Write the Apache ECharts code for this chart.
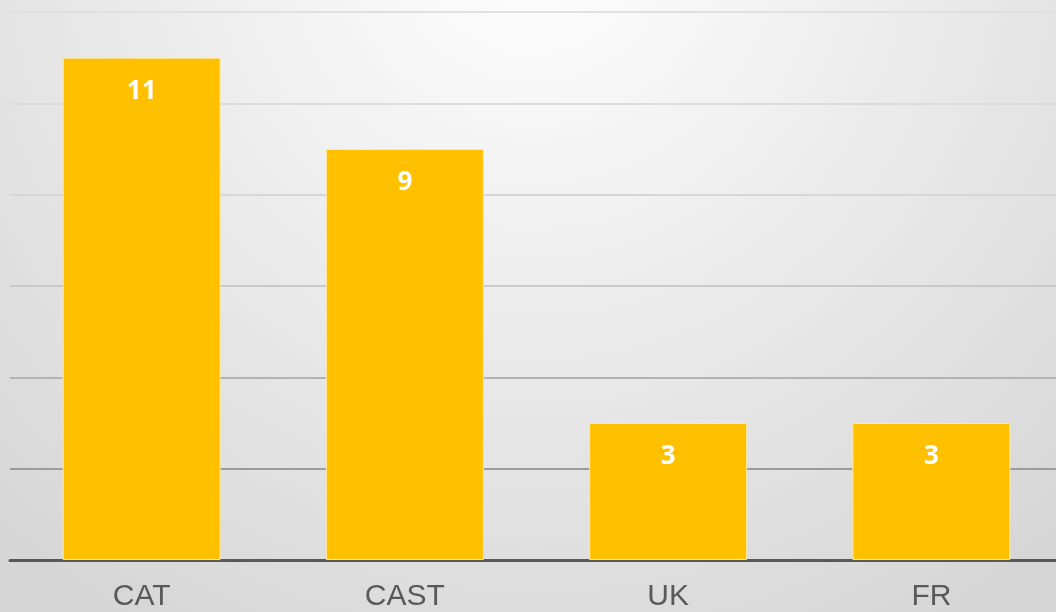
<!DOCTYPE html>
<html>
<head>
<meta charset="utf-8">
<script src="https://cdn.jsdelivr.net/npm/echarts@6/dist/echarts.min.js"></script>
<style>html,body{margin:0;padding:0;overflow:hidden;width:1056px;height:612px;}#c{width:1064px;height:612px;}</style>
</head>
<body>
<div id="c"></div>
<script>
const categories = ["CAT", "CAST", "UK", "FR"];
const values = [11, 9, 3, 3];
const yMax = 12;
const yInterval = 2;

const chart = echarts.init(document.getElementById('c'), null, {renderer: 'canvas', width: 1064, height: 612});
chart.setOption({
  animation: false,
  backgroundColor: {
    type: 'radial', x: 0.5, y: -0.1, r: 1.3,
    colorStops: [{offset: 0, color: '#ffffff'}, {offset: 1, color: '#d6d6d6'}]
  },
  grid: {left: 10, right: 1, top: 12, bottom: 48, containLabel: false},
  xAxis: {
    type: 'category',
    data: categories,
    axisLine: {lineStyle: {color: '#595959', width: 3}},
    axisTick: {show: false},
    axisLabel: {color: '#595959', fontSize: 30, fontFamily: 'Liberation Sans, Arial, sans-serif', margin: 22}
  },
  yAxis: {
    type: 'value',
    min: 0, max: yMax, interval: yInterval,
    axisLabel: {show: false},
    axisLine: {show: false},
    axisTick: {show: false},
    splitLine: {lineStyle: {width: 2, color: ['#999999', '#9c9c9c', '#b3b3b3', '#c9c9c9', '#d6d6d6', '#dcdcdc', '#e0e0e0']}}
  },
  series: [{
    type: 'bar',
    data: values,
    barWidth: '60%',
    itemStyle: {color: '#ffc000', borderColor: '#ffe9a6', borderWidth: 1},
    label: {
      show: true, position: 'insideTop', distance: 21,
      color: '#ffffff', fontSize: 26, fontWeight: 'bold', fontFamily: 'Open Sans, sans-serif'
    }
  }]
});
</script>
</body>
</html>
